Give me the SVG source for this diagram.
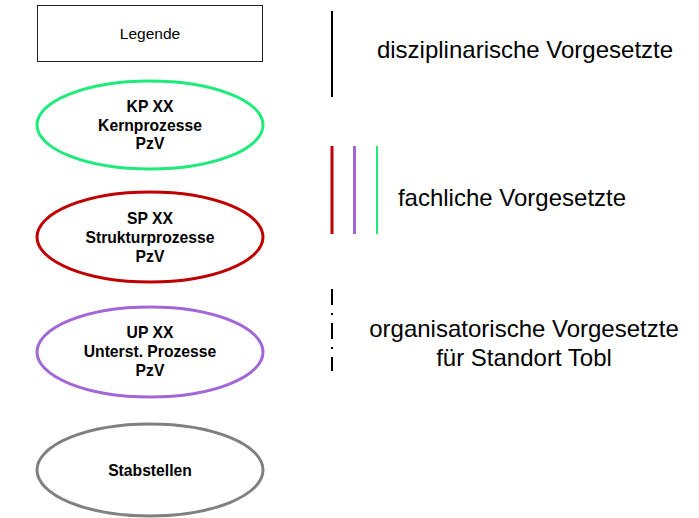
<svg xmlns="http://www.w3.org/2000/svg" width="699" height="518" viewBox="0 0 699 518">
<style>
.bg{fill:#ffffff}
.node{fill:#ffffff;stroke-width:3}
.lbl{font-family:"Liberation Sans",Arial,sans-serif;font-size:15.7px;font-weight:bold;fill:#000;text-anchor:middle}
.leg{font-family:"Liberation Sans",Arial,sans-serif;font-size:15.5px;fill:#000;text-anchor:middle}
.big{font-family:"Liberation Sans",Arial,sans-serif;font-size:24px;fill:#000;text-anchor:middle}
</style>
<rect class="bg" x="0" y="0" width="699" height="518"/>
<g id="legende">
<rect x="37.5" y="5.5" width="225" height="56" fill="#fff" stroke="#222" stroke-width="1"/>
<text class="leg" x="150" y="39">Legende</text>
</g>
<g id="kp">
<ellipse class="node" cx="150" cy="125" rx="113" ry="44" stroke="#1EEB7A"/>
<text class="lbl" x="150" y="111.5">KP XX</text>
<text class="lbl" x="150" y="130.5">Kernprozesse</text>
<text class="lbl" x="150" y="149">PzV</text>
</g>
<g id="sp">
<ellipse class="node" cx="150" cy="237" rx="113" ry="45" stroke="#C00000"/>
<text class="lbl" x="150" y="224">SP XX</text>
<text class="lbl" x="150" y="243">Strukturprozesse</text>
<text class="lbl" x="150" y="262">PzV</text>
</g>
<g id="up">
<ellipse class="node" cx="150" cy="352" rx="113" ry="45" stroke="#A366D6"/>
<text class="lbl" x="150" y="338">UP XX</text>
<text class="lbl" x="150" y="357">Unterst. Prozesse</text>
<text class="lbl" x="150" y="375.5">PzV</text>
</g>
<g id="stab">
<ellipse class="node" cx="150" cy="470" rx="113" ry="46" stroke="#808080"/>
<text class="lbl" x="150" y="475.5">Stabstellen</text>
</g>
<g id="connectors">
<line x1="332" y1="11" x2="332" y2="97" stroke="#000" stroke-width="2"/>
<line x1="332" y1="146" x2="332" y2="234" stroke="#C00000" stroke-width="3"/>
<line x1="354.5" y1="146" x2="354.5" y2="234" stroke="#A366D6" stroke-width="3"/>
<line x1="377" y1="146" x2="377" y2="234" stroke="#1EEB7A" stroke-width="2"/>
<line x1="332" y1="289" x2="332" y2="371" stroke="#000" stroke-width="2" stroke-dasharray="16 8 2 8"/>
</g>
<g id="texts">
<text class="big" x="525" y="57.5">disziplinarische Vorgesetzte</text>
<text class="big" x="512" y="205.5">fachliche Vorgesetzte</text>
<text class="big" x="524" y="336.5">organisatorische Vorgesetzte</text>
<text class="big" x="524" y="365.5">für Standort Tobl</text>
</g>
</svg>
